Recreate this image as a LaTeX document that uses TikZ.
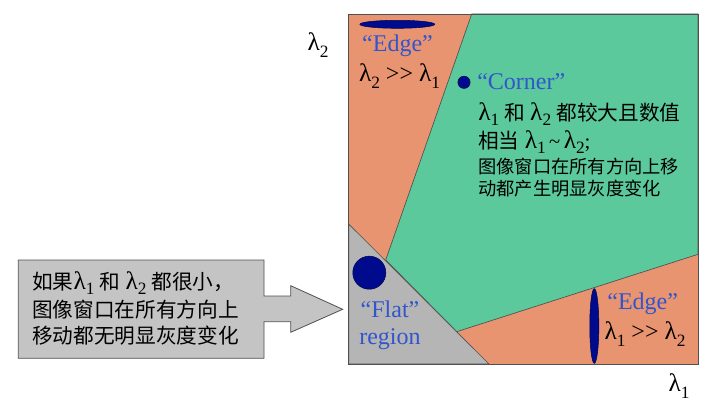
\documentclass[tikz,border=0pt]{standalone}
\usepackage{fontspec}
\setmainfont{Liberation Serif}
\newfontfamily\cjk{Noto Sans CJK SC}
\definecolor{orangec}{RGB}{232,148,112}
\definecolor{greenc}{RGB}{91,201,156}
\definecolor{greyc}{RGB}{181,181,181}
\definecolor{boxgrey}{RGB}{196,196,196}
\definecolor{dblue}{RGB}{0,10,140}
\definecolor{tblue}{RGB}{50,85,205}
\definecolor{linec}{RGB}{80,80,80}
\newcommand\lam{{\fontsize{19}{19}\selectfont λ}}
\newcommand\lsb[1]{\raisebox{-0.6ex}{\fontsize{13}{13}\selectfont #1}}
\newcommand\mygg{>{}>}
\begin{document}
\begin{tikzpicture}[x=0.75pt,y=-0.75pt,
  lbl/.style={inner sep=0pt, font=\fontsize{18}{18}\selectfont},
  bluelbl/.style={lbl, text=tblue},
  cjkbig/.style={inner sep=0pt, anchor=west, font=\fontsize{15.5}{15.5}\selectfont},
  cjksmall/.style={inner sep=0pt, anchor=west, font=\fontsize{13.7}{13.7}\selectfont\cjk},
  region/.style={draw=linec, line width=0.5pt},
  blob/.style={fill=dblue, draw=dblue!60!black, line width=0.4pt}]
\useasboundingbox (0,0) rectangle (721,406);
% regions
\fill[orangec] (348.7,14) rectangle (698,364);
\filldraw[region, fill=greenc] (471.7,14) -- (698,14) -- (698,254.3) -- (456.7,331.7) -- (385.7,260) -- cycle;
\filldraw[region, fill=greyc] (348.7,224) -- (489,364) -- (348.7,364) -- cycle;
\draw[region] (348.7,14) rectangle (698,364);
% axis labels
\node[lbl] (ly) at (318,45) {\lam\lsb{2}};
\node[lbl] (lx) at (679,386) {\lam\lsb{1}};
% top edge
\fill[blob] (397.3,24.3) ellipse [x radius=28.1pt, y radius=3pt];
\node[bluelbl] (edge1) at (397.5,45.5) {“Edge”};
\node[lbl] (edge1r) at (399.5,76) {\lam\lsb{2} \mygg{} \lam\lsb{1}};
% corner
\fill[blob] (464,82.3) circle [radius=4.6pt];
\node[bluelbl, anchor=west] (corner) at (477,82) {“Corner”};
\node[cjkbig] (c1) at (478,114) {\lam\lsb{1} {\cjk 和} \lam\lsb{2} {\cjk 都较大且数值}};
\node[cjkbig] (c2) at (478,142) {{\cjk 相当} \lam\lsb{1}\,\textasciitilde\,\lam\lsb{2};};
\node[cjksmall] (c3) at (478,167) {图像窗口在所有方向上移};
\node[cjksmall] (c4) at (478,189) {动都产生明显灰度变化};
% flat
\filldraw[blob] (369.3,272.7) circle [radius=12.4pt];
\node[bluelbl] (flat) at (390,309) {“Flat”};
\node[bluelbl] (flat2) at (390,339) {region};
% bottom edge
\fill[blob] (594.3,326) ellipse [x radius=3.4pt, y radius=28pt];
\node[bluelbl] (edge2) at (642.7,304) {“Edge”};
\node[lbl] (edge2r) at (645,334) {\lam\lsb{1} \mygg{} \lam\lsb{2}};
% left arrow box
\filldraw[fill=boxgrey, draw=linec, line width=0.6pt] (18.3,260) -- (264,260) -- (264,296) -- (290.7,296) -- (290.7,285.7) -- (342.7,309.3) -- (290.7,332.3) -- (290.7,321.7) -- (264,321.7) -- (264,358.3) -- (18.3,358.3) -- cycle;
\node[cjkbig] (b1) at (32,283) {{\cjk 如果}\lam\lsb{1} {\cjk 和} \lam\lsb{2} {\cjk 都很小，}};
\node[cjkbig] (b2) at (32,310) {\cjk 图像窗口在所有方向上};
\node[cjkbig] (b3) at (32,336) {\cjk 移动都无明显灰度变化};
\end{tikzpicture}
\end{document}
